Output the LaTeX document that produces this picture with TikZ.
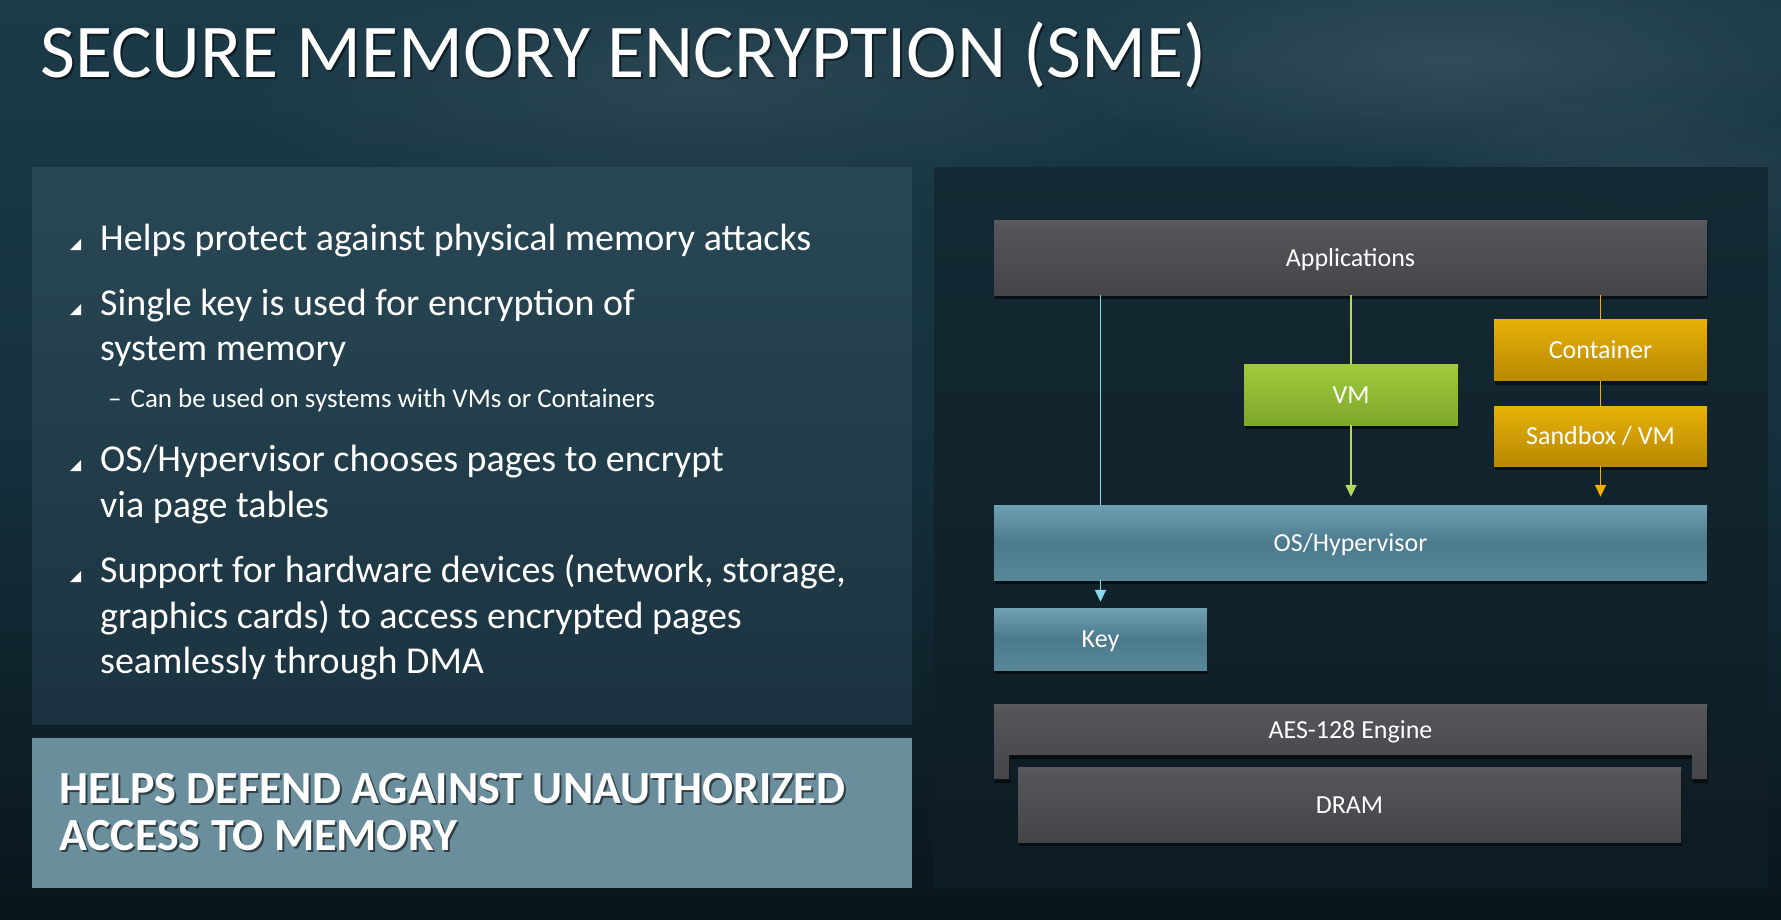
\documentclass[tikz,border=0pt]{standalone}
\usepackage{fontspec}
\setmainfont{Carlito}
\usetikzlibrary{shadows,arrows.meta,fadings}
\definecolor{bgtop}{HTML}{1C3A48}
\definecolor{bgmid}{HTML}{14303C}
\definecolor{bgbot}{HTML}{0A151B}
\definecolor{pltop}{HTML}{294755}
\definecolor{plbot}{HTML}{1B3340}
\definecolor{prtop}{HTML}{132832}
\definecolor{prbot}{HTML}{0F1D24}
\definecolor{banner}{HTML}{6A8E9C}
\definecolor{gtop}{HTML}{76767A}
\definecolor{gmid}{HTML}{555559}
\definecolor{gbot}{HTML}{3C3C40}
\definecolor{btop}{HTML}{96C8D8}
\definecolor{bmid}{HTML}{4A7A8C}
\definecolor{bbot}{HTML}{5C8C9C}
\definecolor{vtop}{HTML}{B4DE46}
\definecolor{vbot}{HTML}{6A9420}
\definecolor{ytop}{HTML}{FFC60C}
\definecolor{ybot}{HTML}{A07400}
\definecolor{cyanl}{HTML}{8AD8F0}
\definecolor{greenl}{HTML}{B4D85A}
\definecolor{orangel}{HTML}{F0B000}
\tikzfading[name=softblob, inner color=transparent!0, outer color=transparent!100]
\pgfdeclareverticalshading{grayshade}{100bp}{color(0bp)=(gbot); color(70bp)=(gmid); color(100bp)=(gtop)}
\pgfdeclareverticalshading{blueshade}{100bp}{color(0bp)=(bbot); color(18bp)=(bbot); color(50bp)=(bmid); color(100bp)=(btop)}
\pgfdeclareverticalshading{greenshade}{100bp}{color(0bp)=(vbot); color(100bp)=(vtop)}
\pgfdeclareverticalshading{goldshade}{100bp}{color(0bp)=(ybot); color(100bp)=(ytop)}
\tikzset{
  lbl/.style={inner sep=0pt, text=white, font=\fontsize{26}{30}\selectfont, text height=17pt, text depth=0pt},
  blk/.style={lbl, draw=none,
    drop shadow={shadow xshift=1pt, shadow yshift=-4pt, fill=black, opacity=0.55}},
  graybox/.style={blk, shade, shading=grayshade},
  bluebox/.style={blk, shade, shading=blueshade},
  greenbox/.style={blk, shade, shading=greenshade},
  goldbox/.style={blk, shade, shading=goldshade},
  txt/.style={anchor=base west, inner sep=0pt, text=white, font=\fontsize{38}{44}\selectfont},
  subtxt/.style={anchor=base west, inner sep=0pt, text=white, font=\fontsize{27}{32}\selectfont},
  bantxt/.style={anchor=base west, inner sep=0pt, font=\bfseries\fontsize{46}{52}\selectfont},
  conn/.style={line width=1.6pt},
  tip/.style={-{Triangle[length=12pt,width=11pt]}}
}
\newcommand{\bulletat}[2]{\fill[white] (#1,#2) -- (#1+11,#2) -- (#1+11,#2-11) -- cycle;}
\begin{document}
\begin{tikzpicture}[x=1pt,y=-1pt]
\useasboundingbox (0,0) rectangle (1781,919);
% background
\shade[top color=bgtop, bottom color=bgbot, middle color=bgmid] (0,0) rectangle (1781,919);
\fill[white, opacity=0.10, path fading=softblob] (1450,60) ellipse (420 and 110);
\fill[white, opacity=0.07, path fading=softblob] (700,90) ellipse (500 and 120);
\fill[white, opacity=0.06, path fading=softblob] (1650,180) ellipse (250 and 90);
% title
\node[anchor=base west, inner sep=0pt, text=black, opacity=0.5, font=\fontsize{76}{80}\selectfont] (titlesh) at (42,79) {SECURE MEMORY ENCRYPTION (SME)};
\node[anchor=base west, inner sep=0pt, text=white, font=\fontsize{76}{80}\selectfont] (title) at (40,77) {SECURE MEMORY ENCRYPTION (SME)};
% left panel
\shade[top color=pltop, bottom color=plbot] (32,167) rectangle (912,724);
% banner
\fill[banner] (32,738) rectangle (912,888);
% right panel
\shade[top color=prtop, bottom color=prbot, opacity=0.92] (934,167) rectangle (1768,888);
% bullets
\bulletat{70}{250}
\node[txt] (b1) at (100,250) {Helps protect against physical memory attacks};
\bulletat{70}{315}
\node[txt] (b2a) at (100,315) {Single key is used for encryption of};
\node[txt] (b2b) at (100,360) {system memory};
\node[subtxt] (b2c) at (108,407) {–\hspace{9pt}Can be used on systems with VMs or Containers};
\bulletat{70}{471}
\node[txt] (b3a) at (100,471) {OS/Hypervisor chooses pages to encrypt};
\node[txt] (b3b) at (100,517) {via page tables};
\bulletat{70}{582}
\node[txt] (b4a) at (100,582) {Support for hardware devices (network, storage,};
\node[txt] (b4b) at (100,628) {graphics cards) to access encrypted pages};
\node[txt] (b4c) at (100,673) {seamlessly through DMA};
% banner text
\node[bantxt, text=black, opacity=0.55] (ban1s) at (61,805) {HELPS DEFEND AGAINST UNAUTHORIZED};
\node[bantxt, text=black, opacity=0.55] (ban2s) at (61,852) {ACCESS TO MEMORY};
\node[bantxt, text=white] (ban1) at (59,803) {HELPS DEFEND AGAINST UNAUTHORIZED};
\node[bantxt, text=white] (ban2) at (59,850) {ACCESS TO MEMORY};
% diagram boxes
\node[graybox, minimum width=713pt, minimum height=75pt] (app) at (1350.5,257.5) {Applications};
\node[goldbox, minimum width=213pt, minimum height=61pt] (cont) at (1600.5,350) {Container};
\node[greenbox, minimum width=214pt, minimum height=61pt] (vm) at (1351,394.5) {VM};
\node[goldbox, minimum width=213pt, minimum height=60pt] (sand) at (1600.5,436) {Sandbox / VM};
\node[bluebox, minimum width=713pt, minimum height=75pt] (os) at (1350.5,542.5) {OS/Hypervisor};
\node[bluebox, minimum width=213pt, minimum height=62pt] (key) at (1100.5,639) {Key};
% AES U-shape
\fill[black, opacity=0.55] (995,708) -- (1708,708) -- (1708,783) -- (1693,783) -- (1693,759) -- (1010,759) -- (1010,783) -- (995,783) -- cycle;
\shade[shading=grayshade] (994,704) -- (1707,704) -- (1707,779) -- (1692,779) -- (1692,755) -- (1009,755) -- (1009,779) -- (994,779) -- cycle;
\node[lbl] (aes) at (1350.5,729.5) {AES-128 Engine};
\node[graybox, minimum width=663pt, minimum height=75pt] (dram) at (1349.5,804.5) {DRAM};
% connectors
\draw[conn, cyanl] (app.south -| key) -- (os.north -| key);
\draw[conn, cyanl, tip, shorten >=6pt] (os.south -| key) -- (key.north);
\draw[conn, greenl] (app.south -| vm) -- (vm.north);
\draw[conn, greenl, tip, shorten >=8pt] (vm.south) -- (os.north -| vm);
\draw[conn, orangel] (app.south -| cont) -- (cont.north);
\draw[conn, orangel] (cont.south) -- (sand.north);
\draw[conn, orangel, tip, shorten >=8pt] (sand.south) -- (os.north -| sand);
\end{tikzpicture}
\end{document}
